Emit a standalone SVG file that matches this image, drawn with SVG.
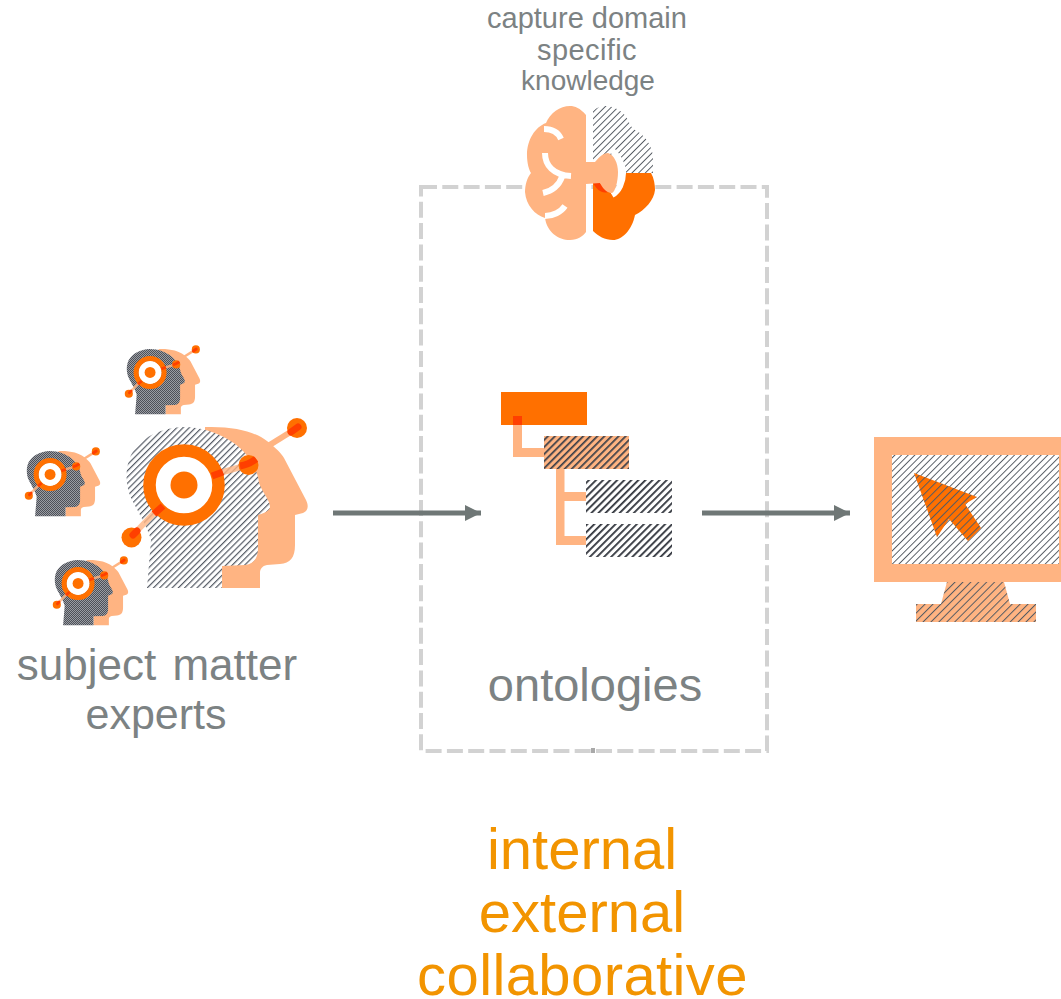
<svg xmlns="http://www.w3.org/2000/svg" xmlns:xlink="http://www.w3.org/1999/xlink" width="1061" height="999" viewBox="0 0 1061 999">
<style>
text{font-family:"Liberation Sans",Arial,sans-serif;text-anchor:middle}
.g{fill:#7c8283}
.o{fill:#f29400;font-size:58px}
.pe{fill:#ffb482}
.or{fill:#ff7000}
.red{stroke:#ff3f00;stroke-width:7;fill:none}
.pl{stroke:#ffb482;stroke-width:6;fill:none}
.wh{stroke:#fff;stroke-width:6;fill:none}
.ar{stroke:#6f7776;stroke-width:5;fill:none}
</style>
<defs>
<pattern id="h" width="4.4" height="4.4" patternUnits="userSpaceOnUse" patternTransform="rotate(45)"><rect width="4.4" height="4.4" fill="#fff"/><rect width="1.2" height="4.4" fill="#555b65"/></pattern>
<pattern id="hd" width="5" height="5" patternUnits="userSpaceOnUse" patternTransform="rotate(45)"><rect width="5" height="5" fill="#fff"/><rect width="1.8" height="5" fill="#30343c"/></pattern>
<pattern id="hs" width="2" height="2" patternUnits="userSpaceOnUse"><rect width="2" height="2" fill="#9a9da3"/><rect width="1" height="1" fill="#4d5058"/><rect x="1" y="1" width="1" height="1" fill="#4d5058"/></pattern>
<pattern id="ht" width="5.600" height="5.600" patternUnits="userSpaceOnUse" patternTransform="rotate(45)"><rect width="1" height="5.600" fill="#555b63"/></pattern>
<pattern id="hw" width="4.700" height="4.700" patternUnits="userSpaceOnUse" patternTransform="rotate(45)"><rect width="4.700" height="4.700" fill="#fff"/><rect width=".95" height="4.700" fill="#555b63"/></pattern>
<pattern id="htd" width="5" height="5" patternUnits="userSpaceOnUse" patternTransform="rotate(45)"><rect width="1.700" height="5" fill="#3a3e48"/></pattern>
<marker id="a" markerUnits="userSpaceOnUse" markerWidth="17" markerHeight="17" refX="16" refY="8" orient="auto"><path d="M0 0L16 8L0 16z" fill="#6f7776"/></marker>
<path id="hp" class="pe" d="M205 427C235 426 255 432 267 441C276 448 281 453 284 458L306 500C309 506 308 511 303 513L295 515L295 545C295 558 290 563 280 564L267 565C262 566 260 569 260 573L260 588L222 588L222 560L205 500z"/>
<path id="hb" fill="url(#h)" d="M147 588L151 540C148 528 137 510 131 498C125 484 125 468 131 455C140 438 160 428 183 427C205 427 225 435 240 448C252 459 258 473 259 483C262 492 270 500 270 507C270 511 262 514 258 515L258 548C258 558 254 564 245 565L222 566L222 588z"/>
<path id="hsm" fill="url(#hs)" d="M8.100 65.200L9.700 45.800C8.500 40.900 4.050 33.600 1.600 28.800C-.8 23.100-.8 16.600 1.600 11.300C5.300 4.500 13.400 .4 22.700 0C31.600 0 39.700 3.200 45.800 8.500C50.600 13 53 18.600 53.500 22.700C54.700 26.300 57.900 29.600 57.900 32.400C57.900 34 54.700 35.200 53.100 35.600L53.100 49C53.100 53 51.400 55.500 47.800 55.900L38.500 56.300L38.500 65.200z"/>
<g id="hr">
<path class="pl" d="M268 446L297 428"/>
<path class="pl" opacity=".8" d="M223 472L248 465M131 537L160 507"/>
<circle cx="184" cy="485" r="29" fill="#fff"/>
<circle cx="184" cy="485" r="34.500" fill="none" stroke="#ff7000" stroke-width="12.500"/>
<circle cx="184" cy="485" r="13.500" class="or"/>
<circle cx="131.500" cy="537.500" r="10" class="or"/>
<circle cx="248.500" cy="465" r="10" class="or"/>
<circle cx="297" cy="428" r="10" class="or"/>
<path class="red" stroke-linecap="round" d="M133 535L137 531"/>
<path class="red" d="M154 514L163 506M212 476L223 472M240 466C247 465 252 462 256 459"/>
<path class="red" stroke-linecap="round" d="M291 432L298 427"/>
</g>
</defs>
<rect width="1061" height="999" fill="#fff"/>
<g id="collaboration-box">
<rect x="421" y="187" width="346" height="564" fill="none" stroke="#d2d2d2" stroke-width="4" stroke-dasharray="16 5.300"/>
<rect x="591" y="748" width="4" height="5" fill="#a9a9a9"/>
</g>
<g id="brain">
<path class="pe" d="M586 115C580 108 575 106 570 106C560 106 550 113 546 123C535 127 527 140 527 155C527 163 529 170 531 173C527 178 525 185 525 192C526 205 535 215 545 218C547 232 558 240 570 240C578 240 583 236 586 232z"/>
<path fill="url(#hw)" d="M593 111C597 107 602 106 607 106C616 107 624 112 628 120C630 125 632 128 635 130C645 135 652 145 653 157L653 173L626 173L618 155L600 158L593 165z"/>
<path class="or" d="M593 183L600 183L612 194L626 173L651 173C654 178 655 185 655 190C654 200 645 210 635 215C632 230 622 240 613 240C605 240 598 236 593 231z"/>
<path fill="#ff3f00" d="M593 183L600 183L608 192C602 194 597 190 593 183z"/>
<path class="wh" d="M612 150C620 158 623 166 623 173C623 182 619 191 612 195"/>
<path class="pe" d="M586 162L595 162C600 156 604 153 608 153C614 155 618 163 618 172C618 182 615 192 612 193C606 193 602 187 600 183L586 184z"/>
<path class="wh" d="M544 129C552 129 558 132 561 139M545 153C545 165 553 175 571 176M562 177C559 185 552 191 543 193M545 216C553 216 561 212 565 206"/>
</g>
<g id="experts">
<g id="expert-main"><use href="#hp"/><use href="#hb"/><use href="#hr"/></g>
<g id="expert-1" transform="translate(127 349)"><g transform="scale(.405) translate(-127 -427)"><use href="#hp"/></g><use href="#hsm"/><g transform="scale(.405) translate(-127 -427)"><use href="#hr"/></g></g>
<g id="expert-2" transform="translate(27 451)"><g transform="scale(.405) translate(-127 -427)"><use href="#hp"/></g><use href="#hsm"/><g transform="scale(.405) translate(-127 -427)"><use href="#hr"/></g></g>
<g id="expert-3" transform="translate(55 560)"><g transform="scale(.405) translate(-127 -427)"><use href="#hp"/></g><use href="#hsm"/><g transform="scale(.405) translate(-127 -427)"><use href="#hr"/></g></g>
</g>
<g id="connectors">
<path class="ar" marker-end="url(#a)" d="M333 513L481 513"/>
<path class="ar" marker-end="url(#a)" d="M702 513L850 513"/>
<path class="pe" d="M513 416h9v32h22v9h-31zM556 469h8.500v23H586v9h-21.500v35H586v9h-30z"/>
</g>
<g id="ontology">
<rect x="501" y="392" width="86" height="33" class="or"/>
<rect x="513" y="416" width="9" height="9" fill="#ff3f00"/>
<rect x="544" y="436" width="85" height="33" class="pe"/>
<rect x="544" y="436" width="85" height="33" fill="url(#htd)"/>
<rect x="586" y="480" width="86" height="33" fill="url(#hd)"/>
<rect x="586" y="524" width="86" height="33" fill="url(#hd)"/>
</g>
<g id="monitor">
<path class="pe" d="M947 582L1004 582L1010 604L1036 604L1036 622L916 622L916 604L941 604z"/>
<path fill="url(#ht)" d="M947 582L1004 582L1010 604L1036 604L1036 622L916 622L916 604L941 604z"/>
<rect x="874" y="437" width="187" height="145" class="pe"/>
<rect x="892" y="455" width="167" height="109" fill="url(#hw)"/>
<path class="or" d="M914 473L977 497L965 504L981 528L968 541L949 519L937 537z"/>
<path fill="url(#ht)" d="M914 473L977 497L965 504L981 528L968 541L949 519L937 537z"/>
</g>
<g id="labels">
<text class="g" x="587" y="28" font-size="29">capture domain</text>
<text class="g" x="587" y="60" font-size="29" letter-spacing=".4">specific</text>
<text class="g" x="588" y="90" font-size="28">knowledge</text>
<text class="g" x="157" y="680" font-size="44" word-spacing="4">subject matter</text>
<text class="g" x="156" y="729" font-size="43">experts</text>
<text class="g" x="595" y="701" font-size="47">ontologies</text>
<text class="o" x="582" y="869">internal</text>
<text class="o" x="582" y="932">external</text>
<text class="o" x="582.500" y="994.500" letter-spacing=".4">collaborative</text>
</g>
</svg>
